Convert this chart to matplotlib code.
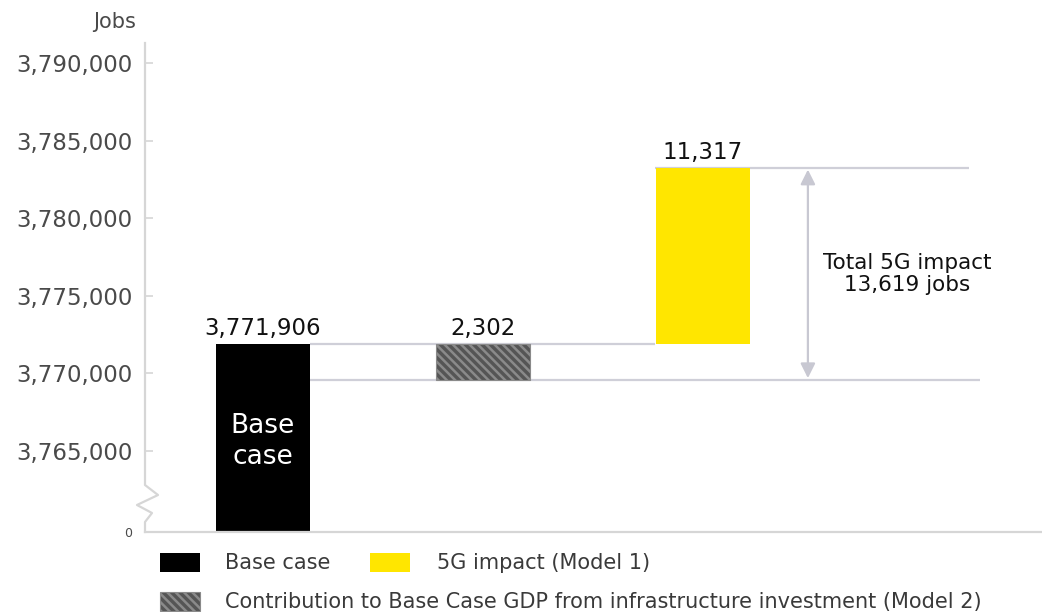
import matplotlib.pyplot as plt
from matplotlib.patches import Rectangle
from matplotlib.lines import Line2D

# jobs figures
base_jobs = 3771906
infra_jobs = 2302       # Model 2, already inside the base case
impact_jobs = 11317     # Model 1
total_jobs = infra_jobs + impact_jobs   # 13,619

y_ticks = [3765000, 3770000, 3775000, 3780000, 3785000, 3790000]
y_tick_labels = ['3,765,000', '3,770,000', '3,775,000', '3,780,000', '3,785,000', '3,790,000']
legend_labels = ['Base case', '5G impact (Model 1)',
                 'Contribution to Base Case GDP from infrastructure investment (Model 2)']

BLACK = '#000000'
YELLOW = '#ffe600'
HATCH_BG = '#555555'
HATCH_FG = '#8a8a8a'
LINE = '#cfcfd8'
AXIS = '#d6d6d6'
TXT = '#4a4a4a'
STRIPES = '\\\\\\\\'

plt.rcParams['font.family'] = ['DejaVu Sans']
plt.rcParams['hatch.linewidth'] = 1.8
plt.rcParams['hatch.color'] = HATCH_FG

fig = plt.figure(figsize=(10.42, 6.12), dpi=100)
ax = fig.add_axes([145 / 1042, 1 - 532 / 612, 1 - 145 / 1042, 489 / 612])

y_floor = 3759780   # where the broken axis shows "0"
ax.set_ylim(y_floor, 3791290)
ax.set_xlim(-0.536, 3.541)
w = 0.43

# connector lines
infra_low = base_jobs - infra_jobs
top = base_jobs + impact_jobs
ax.hlines(base_jobs, 0.215, 1.78, color=LINE, lw=1.6, zorder=1)
ax.hlines(infra_low, 0.215, 3.26, color=LINE, lw=1.6, zorder=1)
ax.hlines(top, 1.78, 3.21, color=LINE, lw=1.6, zorder=1)

# bars
ax.bar(0, base_jobs, bottom=0, width=w, color=BLACK, zorder=2)
ax.bar(1, infra_jobs, bottom=infra_low, width=w, color=HATCH_BG,
       edgecolor=HATCH_FG, hatch=STRIPES, linewidth=0.8, zorder=2)
ax.bar(2, impact_jobs, bottom=base_jobs, width=w, color=YELLOW, zorder=2)

# value labels
lab_kw = dict(ha='center', va='bottom', fontsize=16.5, color='#111111', zorder=3)
ax.annotate(f'{base_jobs:,}', (0, base_jobs), xytext=(0, 3), textcoords='offset points', **lab_kw)
ax.annotate(f'{infra_jobs:,}', (1, base_jobs), xytext=(0, 3), textcoords='offset points', **lab_kw)
ax.annotate(f'{impact_jobs:,}', (2, top), xytext=(0, 3), textcoords='offset points', **lab_kw)

ax.text(0, 3765600, 'Base\ncase', ha='center', va='center', color='white',
        fontsize=19, linespacing=1.25, zorder=3)

# total impact arrow
arrow_x = 2.477
ax.annotate('', xy=(arrow_x, top), xytext=(arrow_x, infra_low),
            arrowprops=dict(arrowstyle='<|-|>', color='#c8c8d2', lw=1.6,
                            mutation_scale=22, shrinkA=1, shrinkB=1), zorder=1)
ax.text(2.93, (top + infra_low) / 2, f'Total 5G impact\n{total_jobs:,} jobs',
        ha='center', va='center', fontsize=15.5, color='#111111', linespacing=1.15,
        fontweight='medium')

# axes styling
for s in ['top', 'right', 'left']:
    ax.spines[s].set_visible(False)
ax.spines['bottom'].set_color(AXIS)
ax.spines['bottom'].set_linewidth(1.6)
ax.set_xticks([])

ax.set_yticks([y_floor] + y_ticks)
ax.set_yticklabels(['0'] + y_tick_labels)
ax.tick_params(axis='y', direction='in', length=6, width=1.2, color=AXIS,
               labelsize=16.5, labelcolor=TXT, pad=9)
t0 = ax.yaxis.get_major_ticks()[0]
t0.tick1line.set_visible(False)
t0.label1.set_fontsize(9)

# left axis line with a break near the bottom
aw, ah = 897.0, 489.0
pts = [(0, 489), (0, 47), (13, 37), (-8, 27), (7, 19), (0, 10), (0, 0)]
ax.add_line(Line2D([p[0] / aw for p in pts], [p[1] / ah for p in pts],
                   transform=ax.transAxes, color=AXIS, lw=1.6, clip_on=False))

fig.text(136 / 1042, 1 - 22 / 612, 'Jobs', ha='right', va='center', fontsize=15, color=TXT)

# legend
def swatch(x, y, **kw):
    fig.add_artist(Rectangle((x / 1042, 1 - (y + 19) / 612), 40 / 1042, 19 / 612,
                             transform=fig.transFigure, **kw))

swatch(160, 553, facecolor=BLACK, edgecolor='none')
fig.text(225 / 1042, 1 - 563 / 612, legend_labels[0], va='center', fontsize=15, color='#3a3a3a')
swatch(370, 553, facecolor=YELLOW, edgecolor='none')
fig.text(437 / 1042, 1 - 563 / 612, legend_labels[1], va='center', fontsize=15, color='#3a3a3a')
swatch(160, 592, facecolor=HATCH_BG, edgecolor=HATCH_FG, hatch=STRIPES, linewidth=0.8)
fig.text(225 / 1042, 1 - 602 / 612, legend_labels[2], va='center', fontsize=15, color='#3a3a3a')

fig.savefig('out.png', dpi=100)
